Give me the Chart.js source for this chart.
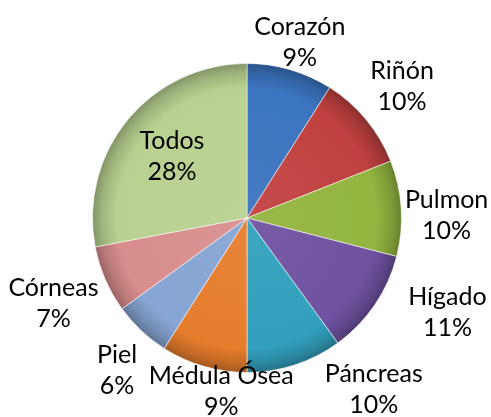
<!DOCTYPE html>
<html>
<head>
<meta charset="utf-8">
<script src="https://cdn.jsdelivr.net/npm/chart.js@4/dist/chart.umd.min.js"></script>
<style>
    html, body { margin: 0; padding: 0; background: #ffffff; }
    #wrap { width: 491px; height: 417px; }
</style>
</head>
<body>
<div id="wrap"><canvas id="chart" width="491" height="417"></canvas></div>
<script>
// Organ share data (percent)
const organs = ['Corazón', 'Riñón', 'Pulmon', 'Hígado', 'Páncreas', 'Médula Ósea', 'Piel', 'Córneas', 'Todos'];
const shares = [9, 10, 10, 11, 10, 9, 6, 7, 28];
const sliceColors = ['#3b74c0', '#c0413f', '#93b53f', '#6f52a0', '#32a0bd', '#e67d2d', '#86a5d4', '#d88e8c', '#b9d190'];

// Label placement: nudges from a point 200px out along the slice mid angle
const labelNudge = [[-3, 16], [1, -5], [0, 9], [35, -18], [65, -19], [30, -19], [7, 6], [-10, 6]];

function shade(hex, f) {
    const n = parseInt(hex.slice(1), 16);
    let r = (n >> 16) & 255, g = (n >> 8) & 255, b = n & 255;
    const mix = (c) => f >= 0 ? Math.round(c + (255 - c) * f) : Math.round(c * (1 + f));
    return `rgb(${mix(r)},${mix(g)},${mix(b)})`;
}

// Radial shading so slices look a bit bevelled like the original
function sliceFill(context) {
    const chart = context.chart;
    const { chartArea, ctx } = chart;
    const base = sliceColors[context.dataIndex];
    if (!chartArea) return base;
    const cx = (chartArea.left + chartArea.right) / 2;
    const cy = (chartArea.top + chartArea.bottom) / 2;
    const r = Math.min(chartArea.right - chartArea.left, chartArea.bottom - chartArea.top) / 2;
    const grad = ctx.createRadialGradient(cx, cy, 0, cx, cy, r);
    grad.addColorStop(0, shade(base, 0.06));
    grad.addColorStop(0.84, base);
    grad.addColorStop(0.94, shade(base, -0.15));
    grad.addColorStop(1, shade(base, -0.3));
    return grad;
}

const labelPlugin = {
    id: 'sliceLabels',
    afterDatasetsDraw(chart) {
        const ctx = chart.ctx;
        const meta = chart.getDatasetMeta(0);
        ctx.save();
        ctx.font = '25px Lato, "Open Sans", sans-serif';
        ctx.fillStyle = '#000000';
        ctx.textAlign = 'center';
        ctx.textBaseline = 'middle';
        meta.data.forEach((arc, i) => {
            const { x, y, startAngle, endAngle, outerRadius } = arc.getProps(['x', 'y', 'startAngle', 'endAngle', 'outerRadius'], true);
            const mid = (startAngle + endAngle) / 2;
            let lx, ly;
            if (i < labelNudge.length) {
                lx = x + Math.cos(mid) * 200 + labelNudge[i][0];
                ly = y + Math.sin(mid) * 200 + labelNudge[i][1];
            } else {
                lx = x + Math.cos(mid) * outerRadius * 0.63;
                ly = y + Math.sin(mid) * outerRadius * 0.63;
            }
            ctx.fillText(organs[i], lx, ly - 15);
            ctx.fillText(shares[i] + '%', lx, ly + 16);
        });
        ctx.restore();
    }
};

new Chart(document.getElementById('chart'), {
    type: 'pie',
    data: {
        labels: organs,
        datasets: [{
            data: shares,
            backgroundColor: sliceFill,
            borderColor: 'rgba(255,255,255,0.55)',
            borderWidth: 1
        }]
    },
    options: {
        responsive: false,
        animation: false,
        layout: {
            padding: { top: 63, bottom: 44, left: 92, right: 89 }
        },
        plugins: {
            legend: { display: false },
            title: { display: false },
            tooltip: { enabled: false }
        }
    },
    plugins: [labelPlugin]
});
</script>
</body>
</html>
